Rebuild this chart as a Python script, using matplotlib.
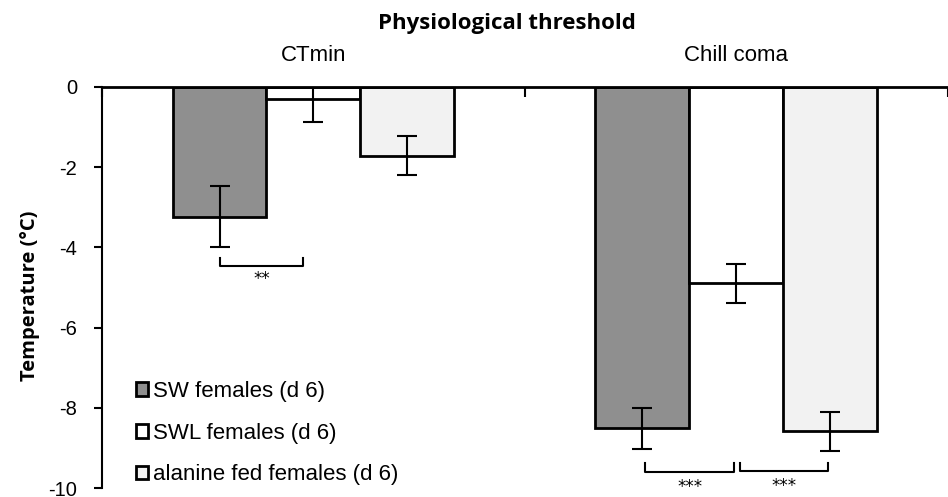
import numpy as np
import matplotlib
matplotlib.use('Agg')
import matplotlib.pyplot as plt
from matplotlib.patches import Patch

plt.rcParams['font.family'] = ['Liberation Sans', 'DejaVu Sans']
plt.rcParams['axes.unicode_minus'] = False

# Data
thresholds = ['CTmin', 'Chill coma']
groups = ['SW females (d 6)', 'SWL females (d 6)', 'alanine fed females (d 6)']
sw_mean = [-3.24, -8.51]
sw_err = [0.76, 0.51]
swl_mean = [-0.29, -4.90]
swl_err = [0.59, 0.48]
ala_mean = [-1.71, -8.59]
ala_err = [0.49, 0.49]
colors = ['#8f8f8f', '#ffffff', '#f2f2f2']

means = [sw_mean, swl_mean, ala_mean]
errs = [sw_err, swl_err, ala_err]

fig = plt.figure(figsize=(9.48, 4.97), dpi=100)
ax = fig.add_axes([0.1076, 0.0181, 0.892, 0.807])

x = np.arange(len(thresholds))
w = 0.222
for i in range(3):
    pos = x + (i - 1) * w
    ax.bar(pos, means[i], width=w, color=colors[i], edgecolor='black', linewidth=2, zorder=2)
    ax.errorbar(pos, means[i], yerr=errs[i], fmt='none', ecolor='black', elinewidth=1.5,
                capsize=7, capthick=1.5, zorder=3)

# significance brackets
def bracket(x0, x1, y, h, label, ty):
    ax.plot([x0, x0, x1, x1], [y + h, y, y, y + h], color='black', lw=1.5, clip_on=False, zorder=3)
    ax.text((x0 + x1) / 2, ty, label, ha='center', va='center', fontsize=12, family='DejaVu Sans',
            clip_on=False)

bracket(-0.222, -0.024, -4.46, 0.2, '**', -4.78)
bracket(0.785, 0.995, -9.6, 0.22, '***', -9.98)
bracket(1.009, 1.217, -9.58, 0.2, '***', -9.95)

ax.set_xlim(-0.5, 1.5)
ax.set_ylim(-10, 0)
ax.set_yticks(np.arange(-10, 1, 2))
ax.tick_params(axis='y', labelsize=14.5, width=1.5, length=6, direction='out', pad=12)

ax.xaxis.set_ticks_position('top')
ax.set_xticks(x)
ax.set_xticklabels(thresholds, fontsize=16)
ax.set_xticks([-0.5, 0.5, 1.5], minor=True)
ax.tick_params(axis='x', which='major', length=0, pad=15)
ax.tick_params(axis='x', which='minor', length=7, width=1.5, direction='in')

for s in ['right', 'bottom']:
    ax.spines[s].set_visible(False)
ax.spines['left'].set_linewidth(1.5)
ax.spines['top'].set_linewidth(2)

ax.set_ylabel('Temperature (°C)', fontsize=14.5, fontweight='bold', family='Open Sans')
ax.yaxis.set_label_coords(-0.0735, 0.479)
fig.text(0.535, 0.952, 'Physiological threshold', ha='center', va='center',
         fontsize=16, fontweight='bold', family='Open Sans')

handles = [Patch(facecolor=c, edgecolor='black', linewidth=2) for c in colors]
ax.legend(handles, groups, loc='lower left', bbox_to_anchor=(0.0165, -0.0435), frameon=False,
          fontsize=16, handlelength=0.56, handleheight=0.56, handletextpad=0.2, labelspacing=0.93)

fig.savefig('out.png', dpi=100)
